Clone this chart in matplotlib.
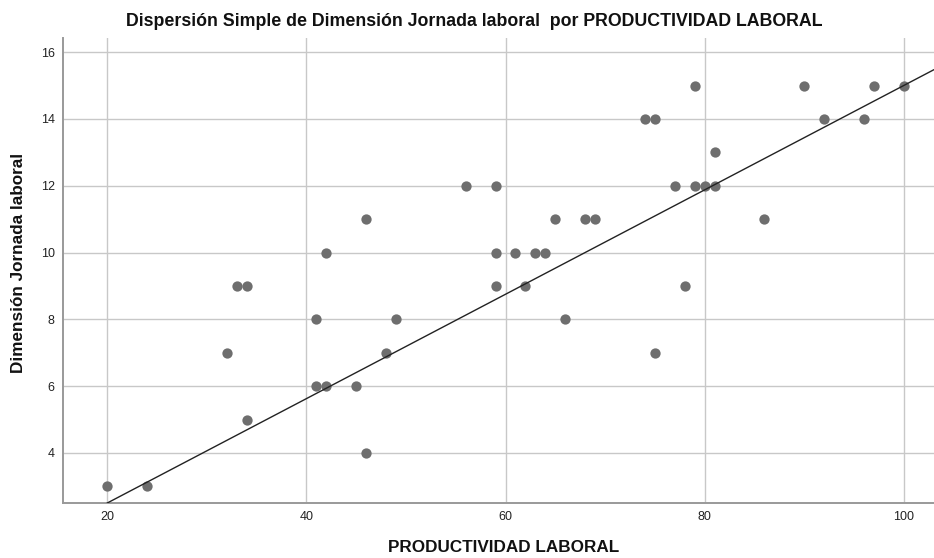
import numpy as np
import matplotlib.pyplot as plt

plt.rcParams['font.family'] = ['Liberation Sans', 'DejaVu Sans']

# data
productividad = [20, 24, 32, 33, 34, 34, 41, 41, 42, 42, 45, 46, 46, 48, 49,
                 56, 59, 59, 59, 61, 62, 63, 64, 65, 66, 68, 69, 74, 75, 75,
                 77, 78, 79, 79, 80, 81, 81, 86, 90, 92, 96, 97, 100]
jornada = [3, 3, 7, 9, 9, 5, 8, 6, 6, 10, 6, 11, 4, 7, 8,
           12, 12, 10, 9, 10, 9, 10, 10, 11, 8, 11, 11, 14, 14, 7,
           12, 9, 15, 12, 12, 12, 13, 11, 15, 14, 14, 15, 15]
# fit line as drawn in the chart (endpoints)
fit_x = [20, 103]
fit_y = [2.5, 15.47]
x_ticks = [20, 40, 60, 80, 100]
y_ticks = [4, 6, 8, 10, 12, 14, 16]

fig = plt.figure(figsize=(9.34, 5.58), dpi=100)
ax = fig.add_axes([0.0675, 0.0986, 0.932, 0.833])

ax.grid(True, color='#c8c8c8', linewidth=1.0)
ax.set_axisbelow(True)
ax.scatter(productividad, jornada, s=55, color='#6e6e6e', zorder=3, linewidths=0)
ax.plot(fit_x, fit_y, color='#222222', linewidth=1.0, zorder=4)

ax.set_xlim(15.55, 103.0)
ax.set_ylim(2.5, 16.42)
ax.set_xticks(x_ticks)
ax.set_yticks(y_ticks)
ax.tick_params(labelsize=9, length=0, pad=6, labelcolor='#222222')
for s in ['top', 'right']:
    ax.spines[s].set_visible(False)
for s in ['left', 'bottom']:
    ax.spines[s].set_color('#999999')
    ax.spines[s].set_linewidth(1.4)

fig.text(0.508, 0.962, 'Dispersión Simple de Dimensión Jornada laboral  por PRODUCTIVIDAD LABORAL',
         ha='center', va='center', fontsize=12.8, fontweight='bold', color='#111111')
fig.text(0.539, 0.018, 'PRODUCTIVIDAD LABORAL', ha='center', va='center',
         fontsize=12.3, fontweight='bold', color='#111111')
fig.text(0.02, 0.528, 'Dimensión Jornada laboral', ha='center', va='center',
         rotation=90, fontsize=12.3, fontweight='bold', color='#111111')

fig.savefig('out.png', dpi=100)
